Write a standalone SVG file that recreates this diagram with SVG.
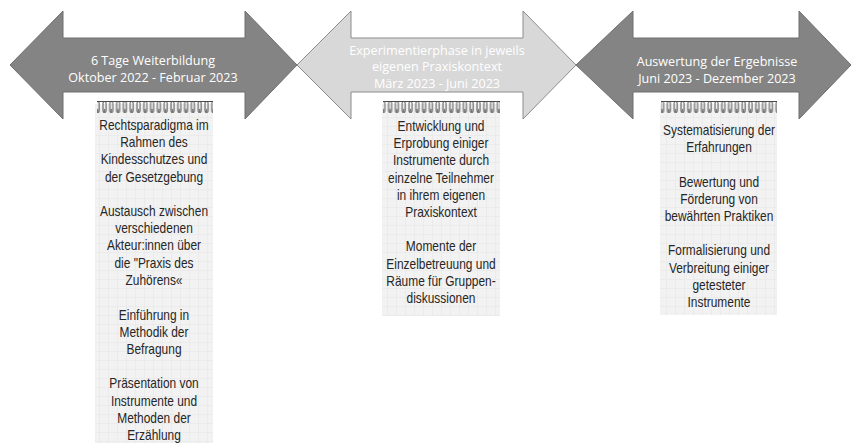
<svg xmlns="http://www.w3.org/2000/svg" width="851" height="443" viewBox="0 0 851 443">
<defs>
<style>
.arrowDark{fill:#848484;stroke:#6f6f6f;stroke-width:1}
.arrowLight{fill:#d8d8d8;stroke:#8c8c8c;stroke-width:1}
.atext{font-family:"Open Sans","Liberation Sans",sans-serif;font-size:12.6px;fill:#ffffff;text-anchor:middle}
.ptext{font-family:"Liberation Sans",Arial,sans-serif;font-size:14.2px;fill:#262626;text-anchor:middle}
.paper{fill:url(#grid)}
.spiral{fill:url(#coil)}
.wire{stroke:#4a4a4a;stroke-width:1.2}
</style>
<pattern id="grid" patternUnits="userSpaceOnUse" width="9" height="9">
<rect width="9" height="9" fill="#f2f2f2"/>
<path d="M0,0.5H9M0.5,0V9" stroke="#ebebeb" stroke-width="1"/>
</pattern>
<pattern id="coil" patternUnits="userSpaceOnUse" x="0" y="100" width="6.8" height="14">
<rect x="1" y="1.5" width="3" height="11" rx="1.5" fill="none" stroke="#505050" stroke-width="1"/>
<path d="M2.5,9V13" stroke="#777" stroke-width="1.4"/>
</pattern>
</defs>

<g id="arrow1">
<polygon class="arrowDark" points="10,65 63,11 63,38 245,38 245,11 297,65 245,119 245,92 63,92 63,119"/>
<text class="atext" x="153" y="64.5">6 Tage Weiterbildung</text>
<text class="atext" x="153" y="81.5">Oktober 2022 - Februar 2023</text>
</g>

<g id="arrow2">
<polygon class="arrowLight" points="297,65 351,11 351,38 523,38 523,11 576,65 523,119 523,92 351,92 351,119"/>
<text class="atext" x="437" y="54.5">Experimentierphase in jeweils</text>
<text class="atext" x="437" y="71">eigenen Praxiskontext</text>
<text class="atext" x="437" y="87.5">März 2023 - Juni 2023</text>
</g>

<g id="arrow3">
<polygon class="arrowDark" points="576,65 633,11 633,38 799,38 799,11 851,65 799,119 799,92 633,92 633,119"/>
<text class="atext" x="717" y="66">Auswertung der Ergebnisse</text>
<text class="atext" x="717" y="83">Juni 2023 - Dezember 2023</text>
</g>

<g id="pad1">
<rect class="paper" x="95" y="104" width="118" height="339"/>
<rect class="spiral" x="97" y="100" width="116" height="14"/>
<line class="wire" x1="97" y1="101.5" x2="213" y2="101.5"/>
<g transform="translate(154,0) scale(0.84,1)">
<text class="ptext" x="0" y="130">Rechtsparadigma im</text>
<text class="ptext" x="0" y="147.2">Rahmen des</text>
<text class="ptext" x="0" y="164.4">Kindesschutzes und</text>
<text class="ptext" x="0" y="181.6">der Gesetzgebung</text>
<text class="ptext" x="0" y="216">Austausch zwischen</text>
<text class="ptext" x="0" y="233.2">verschiedenen</text>
<text class="ptext" x="0" y="250.4">Akteur:innen über</text>
<text class="ptext" x="0" y="267.6">die "Praxis des</text>
<text class="ptext" x="0" y="284.8">Zuhörens«</text>
<text class="ptext" x="0" y="319.6">Einführung in</text>
<text class="ptext" x="0" y="336.8">Methodik der</text>
<text class="ptext" x="0" y="354">Befragung</text>
<text class="ptext" x="0" y="388.4">Präsentation von</text>
<text class="ptext" x="0" y="405.6">Instrumente und</text>
<text class="ptext" x="0" y="422.8">Methoden der</text>
<text class="ptext" x="0" y="440">Erzählung</text>
</g>
</g>

<g id="pad2">
<rect class="paper" x="382" y="104" width="118" height="212"/>
<rect class="spiral" x="383" y="100" width="117" height="14"/>
<line class="wire" x1="383" y1="101.5" x2="500" y2="101.5"/>
<g transform="translate(441,0) scale(0.84,1)">
<text class="ptext" x="0" y="131">Entwicklung und</text>
<text class="ptext" x="0" y="148.2">Erprobung einiger</text>
<text class="ptext" x="0" y="165.4">Instrumente durch</text>
<text class="ptext" x="0" y="182.6">einzelne Teilnehmer</text>
<text class="ptext" x="0" y="199.8">in ihrem eigenen</text>
<text class="ptext" x="0" y="217">Praxiskontext</text>
<text class="ptext" x="0" y="251.4">Momente der</text>
<text class="ptext" x="0" y="268.6">Einzelbetreuung und</text>
<text class="ptext" x="0" y="285.8">Räume für Gruppen-</text>
<text class="ptext" x="0" y="303">diskussionen</text>
</g>
</g>

<g id="pad3">
<rect class="paper" x="660" y="104" width="117" height="211"/>
<rect class="spiral" x="661" y="100" width="116" height="14"/>
<line class="wire" x1="661" y1="101.5" x2="777" y2="101.5"/>
<g transform="translate(719,0) scale(0.84,1)">
<text class="ptext" x="0" y="135">Systematisierung der</text>
<text class="ptext" x="0" y="152.2">Erfahrungen</text>
<text class="ptext" x="0" y="186.6">Bewertung und</text>
<text class="ptext" x="0" y="203.8">Förderung von</text>
<text class="ptext" x="0" y="221">bewährten Praktiken</text>
<text class="ptext" x="0" y="255.4">Formalisierung und</text>
<text class="ptext" x="0" y="272.6">Verbreitung einiger</text>
<text class="ptext" x="0" y="289.8">getesteter</text>
<text class="ptext" x="0" y="307">Instrumente</text>
</g>
</g>
</svg>
